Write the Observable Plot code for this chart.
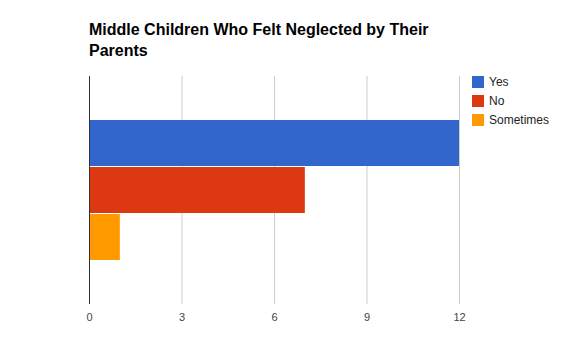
<!DOCTYPE html>
<html>
<head>
<meta charset="utf-8">
<script src="https://cdn.jsdelivr.net/npm/d3@7"></script>
<script src="https://cdn.jsdelivr.net/npm/@observablehq/plot@0.6"></script>
<style>
  html, body { margin: 0; padding: 0; background: #fff; }
  #wrap { position: relative; width: 574px; height: 363px; font-family: Arial, "Liberation Sans", sans-serif; overflow: hidden; }
  #title { position: absolute; left: 89px; top: 19px; width: 380px; font-size: 16px; font-weight: bold; color: #000; line-height: 21px; }
  #chart { position: absolute; left: 0; top: 0; }
  #legend { position: absolute; left: 472px; top: 76px; font-size: 12px; color: #222; }
  .item { display: flex; align-items: center; height: 12px; margin-bottom: 7px; }
  .sw { width: 12px; height: 12px; margin-right: 5px; }
</style>
</head>
<body>
<div id="wrap">
  <div id="chart"></div>
  <div id="title"></div>
  <div id="legend"></div>
</div>
<script>
const titleText = "Middle Children Who Felt Neglected by Their Parents";
const series = ["Yes", "No", "Sometimes"];
const values = [12, 7, 1];
const colors = ["#3366cc", "#dc3912", "#ff9900"];
const xTicks = [0, 3, 6, 9, 12];

const data = series.map((s, i) => ({answer: s, count: values[i]}));

document.getElementById("title").textContent = titleText;

const legend = document.getElementById("legend");
series.forEach((s, i) => {
  const it = document.createElement("div");
  it.className = "item";
  const sw = document.createElement("div");
  sw.className = "sw";
  sw.style.background = colors[i];
  const lb = document.createElement("span");
  lb.textContent = s;
  it.appendChild(sw);
  it.appendChild(lb);
  legend.appendChild(it);
});

const chart = Plot.plot({
  width: 574,
  height: 363,
  marginLeft: 89,
  marginRight: 115,
  marginTop: 76,
  marginBottom: 59,
  style: {fontFamily: "Arial, 'Liberation Sans', sans-serif", fontSize: "11px", background: "transparent"},
  x: {domain: [0, 12], ticks: xTicks},
  y: {domain: series, range: [120, 261], padding: 0, axis: null},
  color: {domain: series, range: colors},
  marks: [
    Plot.ruleX(xTicks.filter(d => d > 0), {stroke: "#cccccc", strokeWidth: 1}),
    Plot.barX(data, {x: "count", y: "answer", fill: "answer", insetBottom: 1}),
    Plot.ruleX([0], {stroke: "#333333", strokeWidth: 1}),
    Plot.axisX({ticks: xTicks, tickSize: 0, tickPadding: 9, fill: "#444444", fontSize: 11, label: null})
  ]
});
document.getElementById("chart").appendChild(chart);
</script>
</body>
</html>
